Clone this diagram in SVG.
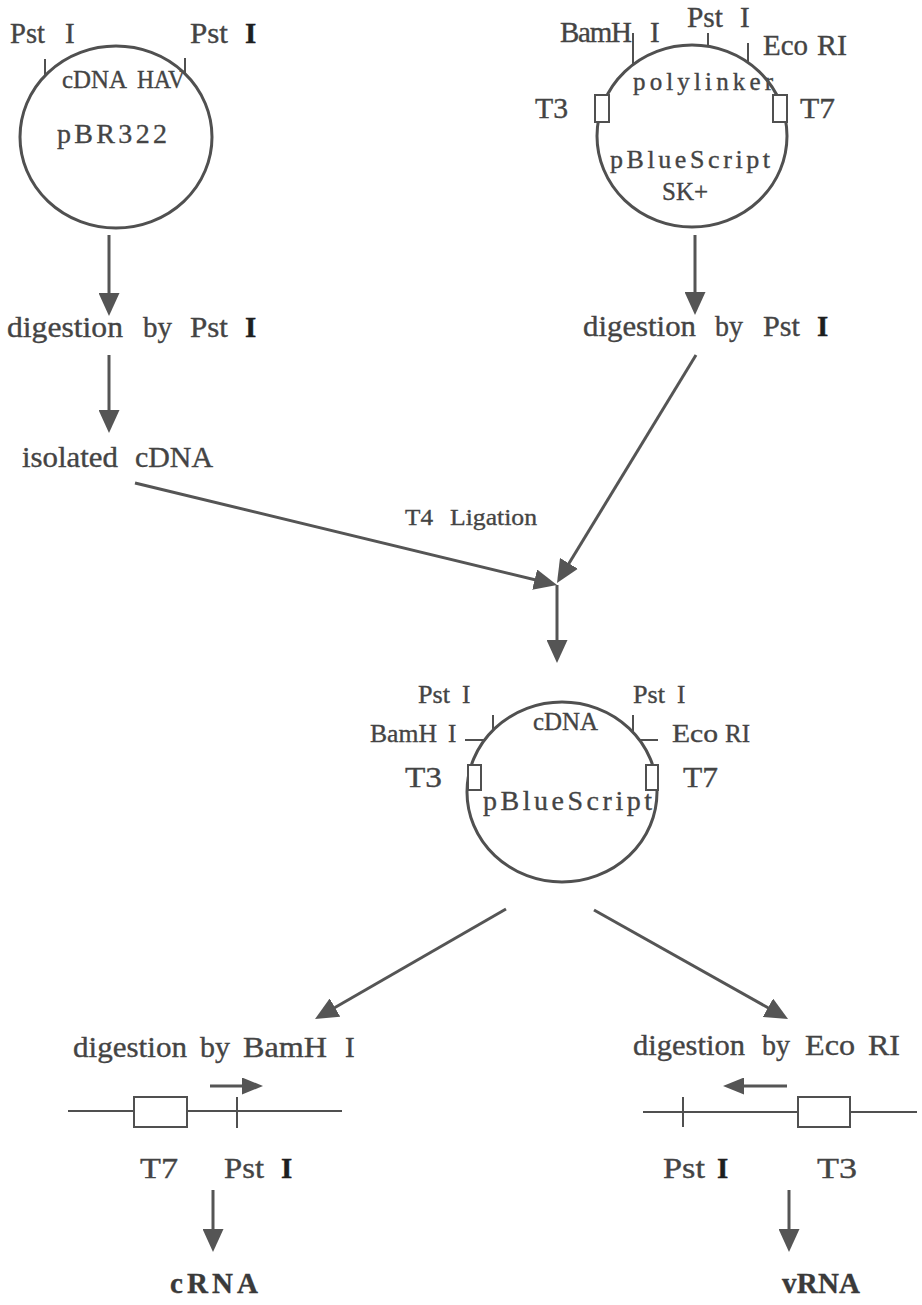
<svg xmlns="http://www.w3.org/2000/svg" width="922" height="1305" viewBox="0 0 922 1305" font-family="'Liberation Serif', 'Times New Roman', serif">
<style>
  text { font-family: "Liberation Serif", "Times New Roman", serif; fill: #444; stroke: #444; stroke-width: 0.35px; }
  .f29 { font-size: 29px; }
  .f28 { font-size: 28px; }
  .f26 { font-size: 26px; }
  .f25 { font-size: 25px; }
  .f24 { font-size: 24px; }
  .dk { fill: #1e1e1e; stroke: #1e1e1e; font-weight: bold; }
  .bold { font-weight: bold; fill: #3a3a3a; stroke: #3a3a3a; }
  .ring { fill: none; stroke: #505050; stroke-width: 3; }
  .tick { stroke: #505050; stroke-width: 2; fill: none; }
  .box { fill: #fff; stroke: #505050; stroke-width: 2; }
  .conn { stroke: #555; stroke-width: 3; fill: none; }
  .dna { stroke: #505050; stroke-width: 2; fill: none; }
</style>
<defs>
  <marker id="ah" markerUnits="userSpaceOnUse" markerWidth="23" markerHeight="21" refX="13" refY="10.5" orient="auto">
    <path d="M0,0 L23,10.5 L0,21 z" fill="#555"/>
  </marker>
  <marker id="ahs" markerUnits="userSpaceOnUse" markerWidth="21" markerHeight="17" refX="11" refY="8.5" orient="auto">
    <path d="M0,0 L21,8.5 L0,17 z" fill="#555"/>
  </marker>
</defs>

<g id="plasmid-pBR322">
  <text class="f25" y="88"><tspan x="62" textLength="65" lengthAdjust="spacingAndGlyphs">cDNA</tspan><tspan x="137" textLength="48" lengthAdjust="spacingAndGlyphs">HAV</tspan></text>
  <text class="f28" x="57" y="143" textLength="110" lengthAdjust="spacing">pBR322</text>
  <ellipse class="ring" cx="116" cy="137" rx="96" ry="91"/>
  <line class="tick" x1="45" y1="59" x2="45" y2="75"/>
  <line class="tick" x1="185" y1="58" x2="185" y2="75"/>
  <text class="f29" y="43"><tspan x="10" textLength="35" lengthAdjust="spacingAndGlyphs">Pst</tspan><tspan x="65">I</tspan></text>
  <text class="f29" y="43"><tspan x="190" textLength="38" lengthAdjust="spacingAndGlyphs">Pst</tspan><tspan x="245" class="dk">I</tspan></text>
</g>

<g id="plasmid-pBlueScript-SK">
  <text class="f25" x="633" y="90" textLength="140" lengthAdjust="spacing">polylinker</text>
  <ellipse class="ring" cx="692" cy="136" rx="95" ry="91"/>
  <line class="tick" x1="633" y1="33" x2="633" y2="65"/>
  <line class="tick" x1="708" y1="33" x2="708" y2="46"/>
  <line class="tick" x1="748" y1="43" x2="748" y2="63"/>
  <rect class="box" x="595" y="95" width="14" height="27"/>
  <rect class="box" x="773" y="95" width="14" height="27"/>
  <text class="f29" y="42"><tspan x="560" textLength="72" lengthAdjust="spacing">BamH</tspan><tspan x="650">I</tspan></text>
  <text class="f29" y="27"><tspan x="687" textLength="36" lengthAdjust="spacingAndGlyphs">Pst</tspan><tspan x="740">I</tspan></text>
  <text class="f29" y="55"><tspan x="763" textLength="45" lengthAdjust="spacingAndGlyphs">Eco</tspan><tspan x="817" textLength="30" lengthAdjust="spacingAndGlyphs">RI</tspan></text>
  <text class="f29" x="535" y="118" textLength="33" lengthAdjust="spacingAndGlyphs">T3</text>
  <text class="f29" x="800" y="118" textLength="35" lengthAdjust="spacingAndGlyphs">T7</text>
  <text class="f26" x="610" y="168" textLength="160" lengthAdjust="spacing">pBlueScript</text>
  <text class="f26" x="662" y="200" textLength="46" lengthAdjust="spacingAndGlyphs">SK+</text>
</g>

<g id="step-digest-left">
  <text class="f29" y="337"><tspan x="7" textLength="116" lengthAdjust="spacingAndGlyphs">digestion</tspan><tspan x="143" textLength="29" lengthAdjust="spacingAndGlyphs">by</tspan><tspan x="190" textLength="38" lengthAdjust="spacingAndGlyphs">Pst</tspan><tspan x="245" class="dk">I</tspan></text>
</g>

<g id="step-digest-right">
  <text class="f29" y="336"><tspan x="583" textLength="113" lengthAdjust="spacingAndGlyphs">digestion</tspan><tspan x="715" textLength="28" lengthAdjust="spacingAndGlyphs">by</tspan><tspan x="763" textLength="37" lengthAdjust="spacingAndGlyphs">Pst</tspan><tspan x="817" class="dk">I</tspan></text>
</g>

<g id="isolated-cdna">
  <text class="f29" y="467"><tspan x="22" textLength="96" lengthAdjust="spacingAndGlyphs">isolated</tspan><tspan x="135" textLength="78" lengthAdjust="spacingAndGlyphs">cDNA</tspan></text>
</g>

<g id="label-t4-ligation">
  <text class="f24" y="525"><tspan x="405" textLength="28" lengthAdjust="spacingAndGlyphs">T4</tspan><tspan x="450" textLength="87" lengthAdjust="spacingAndGlyphs">Ligation</tspan></text>
</g>

<g id="plasmid-recombinant">
  <ellipse class="ring" cx="562" cy="792" rx="95" ry="90"/>
  <line class="tick" x1="493" y1="715" x2="493" y2="731"/>
  <line class="tick" x1="633" y1="715" x2="633" y2="732"/>
  <line class="tick" x1="465" y1="740" x2="485" y2="740"/>
  <line class="tick" x1="640" y1="740" x2="658" y2="740"/>
  <rect class="box" x="468" y="765" width="13" height="25"/>
  <rect class="box" x="646" y="765" width="12" height="25"/>
  <text class="f25" y="703"><tspan x="418" textLength="32" lengthAdjust="spacingAndGlyphs">Pst</tspan><tspan x="462">I</tspan></text>
  <text class="f25" y="703"><tspan x="633" textLength="32" lengthAdjust="spacingAndGlyphs">Pst</tspan><tspan x="677">I</tspan></text>
  <text class="f25" y="742"><tspan x="370" textLength="67" lengthAdjust="spacingAndGlyphs">BamH</tspan><tspan x="448">I</tspan></text>
  <text class="f25" y="742"><tspan x="672" textLength="46" lengthAdjust="spacingAndGlyphs">Eco</tspan><tspan x="725">RI</tspan></text>
  <text class="f25" x="533" y="730" textLength="65" lengthAdjust="spacingAndGlyphs">cDNA</text>
  <text class="f29" x="405" y="787" textLength="37" lengthAdjust="spacingAndGlyphs">T3</text>
  <text class="f29" x="683" y="787" textLength="35" lengthAdjust="spacingAndGlyphs">T7</text>
  <text class="f28" x="483" y="810" textLength="169" lengthAdjust="spacing">pBlueScript</text>
</g>

<g id="fragment-bamhi">
  <text class="f29" y="1057"><tspan x="73" textLength="114" lengthAdjust="spacingAndGlyphs">digestion</tspan><tspan x="200" textLength="30" lengthAdjust="spacingAndGlyphs">by</tspan><tspan x="243" textLength="84" lengthAdjust="spacingAndGlyphs">BamH</tspan><tspan x="345">I</tspan></text>
  <line class="dna" x1="68" y1="1111" x2="342" y2="1111"/>
  <rect class="box" x="134" y="1097" width="53" height="30"/>
  <line class="dna" x1="237" y1="1097" x2="237" y2="1128"/>
  <text class="f29" y="1178"><tspan x="140" textLength="38" lengthAdjust="spacingAndGlyphs">T7</tspan><tspan x="224" textLength="40" lengthAdjust="spacingAndGlyphs">Pst</tspan><tspan x="281" class="dk">I</tspan></text>
</g>

<g id="fragment-ecori">
  <text class="f29" y="1055"><tspan x="633" textLength="112" lengthAdjust="spacingAndGlyphs">digestion</tspan><tspan x="762" textLength="28" lengthAdjust="spacingAndGlyphs">by</tspan><tspan x="805" textLength="50" lengthAdjust="spacingAndGlyphs">Eco</tspan><tspan x="868" textLength="32" lengthAdjust="spacingAndGlyphs">RI</tspan></text>
  <line class="dna" x1="643" y1="1112" x2="917" y2="1112"/>
  <line class="dna" x1="683" y1="1097" x2="683" y2="1127"/>
  <rect class="box" x="798" y="1097" width="52" height="30"/>
  <text class="f29" y="1178"><tspan x="663" textLength="42" lengthAdjust="spacingAndGlyphs">Pst</tspan><tspan x="717" class="dk">I</tspan><tspan x="817" textLength="40" lengthAdjust="spacingAndGlyphs">T3</tspan></text>
</g>

<g id="product-crna">
  <text class="f29 bold" x="170" y="1293" textLength="88" lengthAdjust="spacing">cRNA</text>
</g>

<g id="product-vrna">
  <text class="f29 bold" x="782" y="1293" textLength="78" lengthAdjust="spacing">vRNA</text>
</g>

<g id="connectors">
  <line class="conn" x1="109" y1="235" x2="109" y2="306" marker-end="url(#ah)"/>
  <line class="conn" x1="109" y1="355" x2="109" y2="423" marker-end="url(#ah)"/>
  <line class="conn" x1="695" y1="235" x2="695" y2="305" marker-end="url(#ah)"/>
  <line class="conn" x1="696" y1="355" x2="562.2" y2="574.5" marker-end="url(#ah)"/>
  <line class="conn" x1="135" y1="483" x2="547.3" y2="582.7" marker-end="url(#ah)"/>
  <line class="conn" x1="557" y1="585" x2="557" y2="653" marker-end="url(#ah)"/>
  <line class="conn" x1="506" y1="909" x2="323.7" y2="1014" marker-end="url(#ah)"/>
  <line class="conn" x1="594" y1="910" x2="779.3" y2="1014.1" marker-end="url(#ah)"/>
  <line class="conn" x1="210" y1="1086" x2="253" y2="1086" marker-end="url(#ahs)"/>
  <line class="conn" x1="787" y1="1086" x2="733" y2="1086" marker-end="url(#ahs)"/>
  <line class="conn" x1="213" y1="1190" x2="213" y2="1242" marker-end="url(#ah)"/>
  <line class="conn" x1="789" y1="1190" x2="789" y2="1242" marker-end="url(#ah)"/>
</g>
</svg>
